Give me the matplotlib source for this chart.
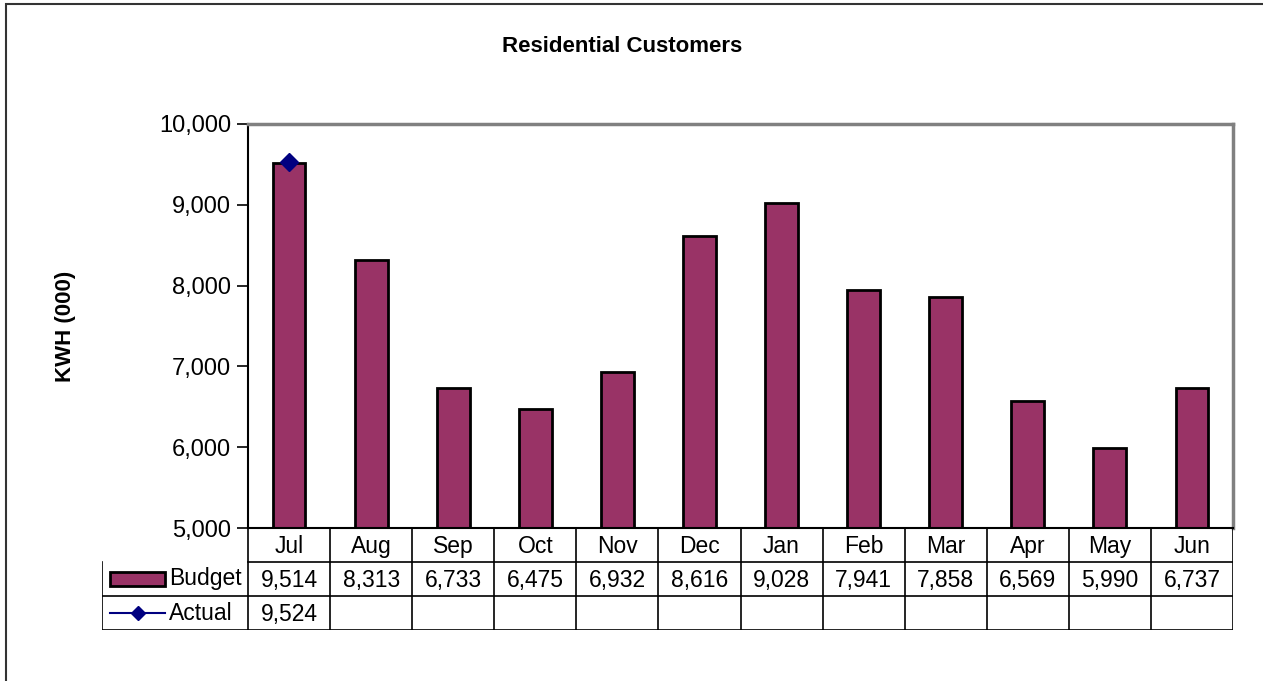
import matplotlib.pyplot as plt
from matplotlib.patches import Rectangle
from matplotlib.lines import Line2D

plt.rcParams['font.family'] = ['Liberation Sans', 'DejaVu Sans']

months = ['Jul', 'Aug', 'Sep', 'Oct', 'Nov', 'Dec', 'Jan', 'Feb', 'Mar', 'Apr', 'May', 'Jun']
budget = [9514, 8313, 6733, 6475, 6932, 8616, 9028, 7941, 7858, 6569, 5990, 6737]
actual = [9524]

bar_color = '#993366'
line_color = '#000080'
fs = 16.5

W, H = 1263, 681
fig = plt.figure(figsize=(W / 100, H / 100), dpi=100)

# outer chart frame
fig.add_artist(Rectangle((6 / W, -0.1), 1.2, 1 - 4 / H + 0.1, transform=fig.transFigure,
                         fill=False, edgecolor='#333333', linewidth=1.5))

# plot area in pixel units
L, R, T, B = 248, 1233, 124, 528
ax = fig.add_axes([L / W, 1 - B / H, (R - L) / W, (B - T) / H])
x = list(range(len(months)))
ax.bar(x, [b - 5000 for b in budget], bottom=5000, width=0.4, color=bar_color,
       edgecolor='black', linewidth=2, zorder=2)
ax.plot(x[:len(actual)], actual, color=line_color, marker='D', markersize=9, zorder=3)
ax.set_xlim(-0.5, 11.5)
ax.set_ylim(5000, 10000)
ax.set_yticks(range(5000, 10001, 1000))
ax.set_yticklabels([f'{v:,}' for v in range(5000, 10001, 1000)], fontsize=17)
ax.tick_params(axis='y', direction='out', length=8, width=1.2, pad=4)
ax.set_xticks([])
for s in ['top', 'right']:
    ax.spines[s].set_color('#808080')
    ax.spines[s].set_linewidth(2.5)
ax.spines['left'].set_linewidth(1.5)
ax.spines['bottom'].set_linewidth(1.5)
ax.set_ylabel('KWH (000)', fontsize=16, fontweight='bold', labelpad=60)
fig.text(622 / W, 1 - 46 / H, 'Residential Customers', ha='center', va='center',
         fontsize=16, fontweight='bold')

# data table below the axis
TL, TB = 102, 630
unit = (R - L) / 12
tx0 = -0.5 - (L - TL) / unit
tab = fig.add_axes([TL / W, 1 - TB / H, (R - TL) / W, (TB - B) / H])
tab.set_xlim(tx0, 11.5)
tab.set_ylim(0, 3)
tab.axis('off')
lw = 1.2
# horizontal rules
tab.plot([-0.5, 11.5], [2, 2], color='black', lw=lw)
tab.plot([tx0, 11.5], [1, 1], color='black', lw=lw)
tab.plot([tx0, 11.5], [0, 0], color='black', lw=lw)
tab.plot([tx0, tx0], [0, 2], color='black', lw=lw)
for i in range(13):
    tab.plot([i - 0.5, i - 0.5], [0, 3], color='black', lw=lw)
for i, m in enumerate(months):
    tab.text(i, 2.45, m, ha='center', va='center', fontsize=fs)
    tab.text(i, 1.45, f'{budget[i]:,}', ha='center', va='center', fontsize=fs)
for i, v in enumerate(actual):
    tab.text(i, 0.45, f'{v:,}', ha='center', va='center', fontsize=fs)

# legend keys
k0 = tx0 + 8 / unit
k1 = tx0 + 63 / unit
tab.add_patch(Rectangle((k0, 1.3), k1 - k0, 0.4, facecolor=bar_color, edgecolor='black', lw=2))
tab.text(k1 + 4 / unit, 1.5, 'Budget', ha='left', va='center', fontsize=fs)
tab.add_line(Line2D([k0, k1], [0.5, 0.5], color=line_color, lw=1.5))
tab.plot([(k0 + k1) / 2], [0.5], marker='D', color=line_color, markersize=7)
tab.text(k1 + 4 / unit, 0.5, 'Actual', ha='left', va='center', fontsize=fs)

fig.savefig('out.png', dpi=100)
